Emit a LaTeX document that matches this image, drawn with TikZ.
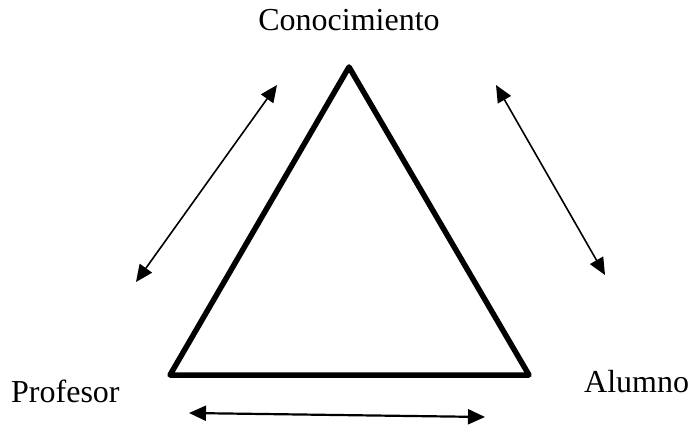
\documentclass[tikz,border=0pt]{standalone}
\usepackage{fontspec}
\setmainfont{Liberation Serif}
\usetikzlibrary{arrows.meta}
\begin{document}
\begin{tikzpicture}[x=1pt,y=-1pt,
  lbl/.style={inner sep=0pt,font=\fontsize{32}{36}\selectfont},
  tri/.style={line width=5.5pt,line join=round},
  rel/.style={line width=1.6pt,{Triangle[length=17pt,width=15pt]}-{Triangle[length=17pt,width=15pt]}}]
\useasboundingbox (0,0) rectangle (691,428);
\coordinate (T) at (349,67);
\coordinate (L) at (170,375);
\coordinate (R) at (529,375);
\draw[tri] (T) -- (L) -- (R) -- cycle;
\node[lbl,anchor=base] (con) at (349,31) {Conocimiento};
\node[lbl,anchor=base west] (prof) at (11,402) {Profesor};
\node[lbl,anchor=base west] (alu) at (584,392) {Alumno};
\coordinate (a1) at (136,282);
\coordinate (a2) at (277,85);
\coordinate (b1) at (496,85);
\coordinate (b2) at (605,275);
\coordinate (c1) at (189,413);
\coordinate (c2) at (485,417);
\draw[rel] (a1) -- (a2);
\draw[rel] (b1) -- (b2);
\draw[rel,line width=2.2pt] (c1) -- (c2);
\end{tikzpicture}
\end{document}
